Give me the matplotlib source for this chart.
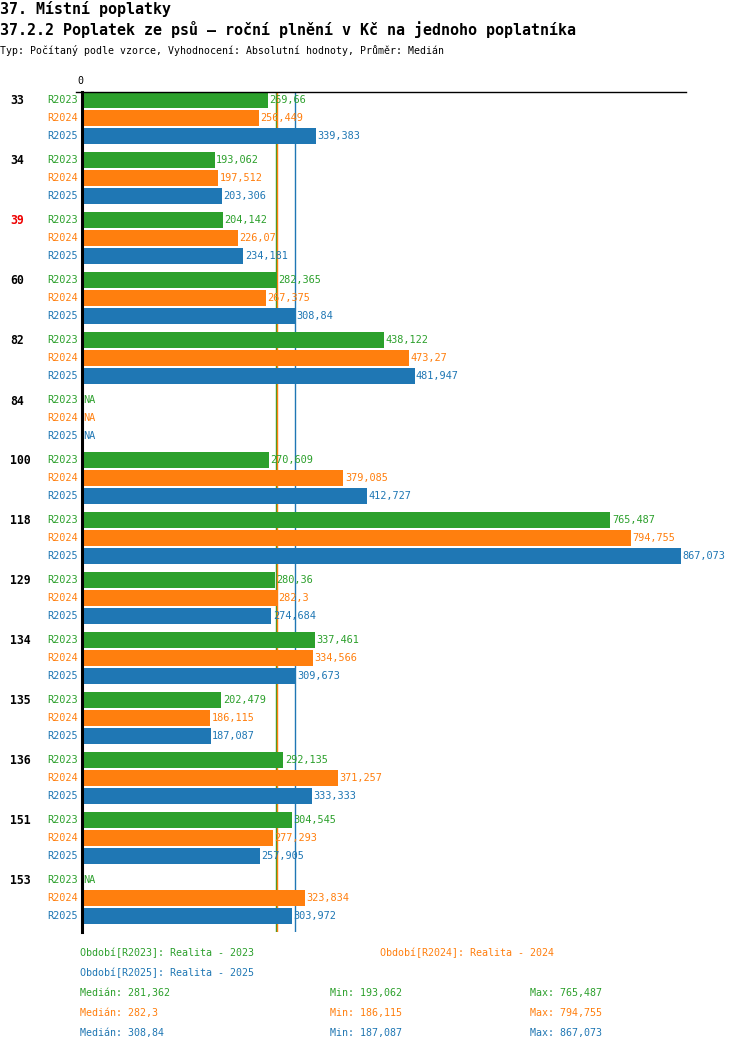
from decimal import Decimal, ROUND_HALF_EVEN
import numpy as np
import matplotlib.pyplot as plt

# data
groups = ["33", "34", "39", "60", "82", "84", "100", "118", "129", "134",
          "135", "136", "151", "153"]
series = ["R2023", "R2024", "R2025"]
r2023 = [269.66, 193.062, 204.142, 282.365, 438.122, np.nan, 270.609,
         765.487, 280.36, 337.461, 202.479, 292.135, 304.545, np.nan]
r2024 = [256.449, 197.512, 226.07, 267.375, 473.27, np.nan, 379.085,
         794.755, 282.3, 334.566, 186.115, 371.257, 277.293, 323.834]
r2025 = [339.383, 203.306, 234.181, 308.84, 481.947, np.nan, 412.727,
         867.073, 274.684, 309.673, 187.087, 333.333, 257.905, 303.972]
periods = ["Realita - 2023", "Realita - 2024", "Realita - 2025"]
highlight = ["39"]

colors = ["#2ca02c", "#ff7f0e", "#1f77b4"]
MONO = "DejaVu Sans Mono"
W, H = 750, 1052


def fmt(v):
    d = Decimal(repr(float(v))).quantize(Decimal("0.001"), ROUND_HALF_EVEN)
    s = f"{d:f}".rstrip("0").rstrip(".")
    return s.replace(".", ",")


def px(x, y):
    return x / W, 1 - y / H


fig = plt.figure(figsize=(W / 100, H / 100), dpi=100)

# axes: x 0 -> px 81.5, top line at y=92, bottom at 932
x0_px, x1_px = 81.5, 686
scale = (680.7 - x0_px) / 867.073
top_px, bot_px = 92, 932
ax = fig.add_axes([x0_px / W, 1 - bot_px / H, (x1_px - x0_px) / W,
                   (bot_px - top_px) / H])
ax.set_xlim(0, (x1_px - x0_px) / scale)
ax.set_ylim(bot_px - top_px, 0)
ax.axis("off")

data = [r2023, r2024, r2025]
for j, (vals, c) in enumerate(zip(data, colors)):
    for i, v in enumerate(vals):
        yc = 8 + 60 * i + 18 * j
        if np.isnan(v):
            ax.text(2, yc, "NA", color=c, fontsize=7.4, family=MONO,
                    va="center", ha="left")
        else:
            ax.barh(yc, v, height=16, color=c, lw=0, zorder=2)
            ax.text(v + 2, yc, fmt(v), color=c, fontsize=7.4, family=MONO,
                    va="center", ha="left", zorder=4)
        fig.text(78 / W, 1 - (top_px + yc) / H, series[j], color=c,
                 fontsize=7.4, family=MONO, ha="right", va="center")

for i, g in enumerate(groups):
    fig.text(*px(10, top_px + 9 + 60 * i), g, fontsize=8.3, family=MONO,
             weight="bold", va="center", ha="left",
             color="#ee0000" if g in highlight else "black")

# median lines
medians = [np.nanmedian(v) for v in data]
for m, c in zip(medians, colors):
    ax.plot([m, m], [0, bot_px - top_px], color=c, lw=1.0, zorder=1)

# axis lines
ax.plot([-6 / scale, ax.get_xlim()[1]], [0, 0], color="black", lw=1,
        zorder=5, clip_on=False)
ax.plot([0, 0], [0, bot_px - top_px], color="black", lw=2.2, zorder=5,
        clip_on=False)
fig.text(*px(80, 81), "0", fontsize=7.2, family=MONO, ha="center",
         va="center")

# titles
fig.text(*px(0, 9), "37. Místní poplatky", fontsize=10.8, family=MONO,
         weight="bold", va="center")
fig.text(*px(0, 30),
         "37.2.2 Poplatek ze psů – roční plnění v Kč na jednoho poplatníka",
         fontsize=10.8, family=MONO, weight="bold", va="center")
fig.text(*px(0, 50),
         "Typ: Počítaný podle vzorce, Vyhodnocení: Absolutní hodnoty, "
         "Průměr: Medián", fontsize=7.15, family=MONO, va="center")

# legend
leg_pos = [(80, 953), (380, 953), (80, 973)]
for s, p, c, (lx, ly) in zip(series, periods, colors, leg_pos):
    fig.text(*px(lx, ly), f"Období[{s}]: {p}", color=c, fontsize=7.2,
             family=MONO, va="center")

for j, (vals, c) in enumerate(zip(data, colors)):
    ly = 993 + 20 * j
    fig.text(*px(80, ly), f"Medián: {fmt(medians[j])}", color=c,
             fontsize=7.2, family=MONO, va="center")
    fig.text(*px(330, ly), f"Min: {fmt(np.nanmin(vals))}", color=c,
             fontsize=7.2, family=MONO, va="center")
    fig.text(*px(530, ly), f"Max: {fmt(np.nanmax(vals))}", color=c,
             fontsize=7.2, family=MONO, va="center")

fig.savefig("out.png", dpi=100, facecolor="white")
